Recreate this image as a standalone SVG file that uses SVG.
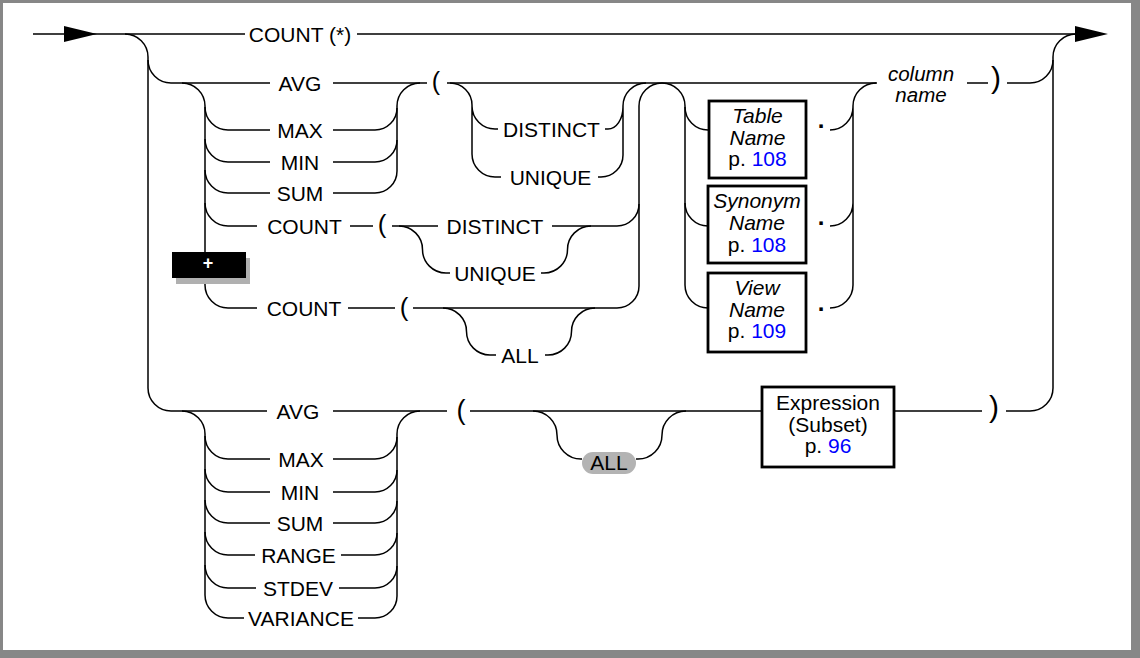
<svg xmlns="http://www.w3.org/2000/svg" width="1140" height="658" viewBox="0 0 1140 658">
<style>
.ln{fill:none;stroke:#000;stroke-width:1.5}
.t{font-family:"Liberation Sans",Arial,sans-serif;font-size:21px;fill:#000;text-anchor:middle}
.i{font-style:italic}
.p{font-family:"Liberation Sans",Arial,sans-serif;fill:#000;text-anchor:middle}
.dot{font-family:"Liberation Sans",Arial,sans-serif;font-size:24px;font-weight:bold;fill:#000;text-anchor:middle}
.box{fill:#fff;stroke:#000;stroke-width:2.8}
.pg{fill:#0000ff}
</style>
<rect x="0" y="0" width="1140" height="658" fill="#878787"/>
<rect x="3" y="3" width="1128" height="647" fill="#fff"/>
<g id="connectors" class="ln">
<path d="M33,34 H245 M357,34 H1078"/>
<path d="M125,34 A23,23 0 0 1 148,57 V388 A23,23 0 0 0 171,411"/>
<path d="M148,60 A23,23 0 0 0 171,83 H270 M333,83 H427 M447,83 H877"/>
<path d="M182,83 A23,23 0 0 1 205,106 V285"/>
<path d="M205,107 A23,23 0 0 0 228,130 H270 M333,130 H375 A22,22 0 0 0 397,108"/>
<path d="M205,139 A23,23 0 0 0 228,162 H270 M333,162 H375 A22,22 0 0 0 397,140"/>
<path d="M205,170 A23,23 0 0 0 228,193 H270 M333,193 H375 A22,22 0 0 0 397,171"/>
<path d="M397,171 V106 A23,23 0 0 1 420,83"/>
<path d="M205,203 A23,23 0 0 0 228,226 H257 M350,226 H373 M392,226 H438 M552,226 H617 A22,22 0 0 0 639,204"/>
<path d="M399,226 A23.5,23.5 0 0 1 422.5,249.5 A23.5,23.5 0 0 0 446,273 H450 M541,273 H544 A23.5,23.5 0 0 0 567.5,249.5 A23.5,23.5 0 0 1 591,226"/>
<path d="M205,285 A23,23 0 0 0 228,308 H257 M348,308 H395 M413,308 H617 A22,22 0 0 0 639,286 V106 A23,23 0 0 1 662,83 A23,23 0 0 1 685,106 V285 A23,23 0 0 0 708,308"/>
<path d="M443,308 A23.5,23.5 0 0 1 466.5,331.5 A23.5,23.5 0 0 0 490,355 H496 M545,355 H548 A23.5,23.5 0 0 0 571.5,331.5 A23.5,23.5 0 0 1 595,308"/>
<path d="M450,83 A22,22 0 0 1 472,105 V154 A23,23 0 0 0 495,177 H501 M472,106 A23,23 0 0 0 495,129 H498"/>
<path d="M605,129 H608 A15,22 0 0 0 623,107 M598,177 H601 A22,22 0 0 0 623,155 V106 A23,23 0 0 1 646,83"/>
<path d="M685,107 A23,23 0 0 0 708,130 M685,203 A23,23 0 0 0 708,226"/>
<path d="M830,130 A23,23 0 0 0 853,107 M830,226 A23,23 0 0 0 853,203 M830,308 A23,23 0 0 0 853,285 M853,285 V106 A23,23 0 0 1 876,83"/>
<path d="M967,83 H988 M1007,83 H1030 A23,23 0 0 0 1053,60"/>
<path d="M1053,388 V57 A23,23 0 0 1 1076,34 M1030,411 A23,23 0 0 0 1053,388"/>
<path d="M171,411 H267 M333,411 H447 M470,411 H762 M894,411 H982 M1006,411 H1030"/>
<path d="M182,411 A23,23 0 0 1 205,434 V595 A23,23 0 0 0 228,618 H244"/>
<path d="M205,436 A23,23 0 0 0 228,459 H270 M333,459 H375 A22,22 0 0 0 397,437"/>
<path d="M205,469 A23,23 0 0 0 228,492 H270 M333,492 H375 A22,22 0 0 0 397,470"/>
<path d="M205,500 A23,23 0 0 0 228,523 H270 M333,523 H375 A22,22 0 0 0 397,501"/>
<path d="M205,532 A23,23 0 0 0 228,555 H255 M341,555 H375 A22,22 0 0 0 397,533"/>
<path d="M205,565 A23,23 0 0 0 228,588 H256 M339,588 H375 A22,22 0 0 0 397,566"/>
<path d="M358,618 H375 A22,22 0 0 0 397,596 V434 A23,23 0 0 1 420,411"/>
<path d="M533,411 A24,24 0 0 1 557,435 A24,24 0 0 0 581,459 H582 M636,459 H638 A24,24 0 0 0 662,435 A24,24 0 0 1 686,411"/>
<polygon points="64,26 97,34 64,42" fill="#000" stroke="none"/>
<polygon points="1075,26 1108,34 1075,42" fill="#000" stroke="none"/>
</g>
<g id="count-star"><text class="t" x="300" y="41.5">COUNT (*)</text></g>
<g id="top-funcs">
<text class="t" x="300" y="90.5">AVG</text>
<text class="t" x="300" y="137.5">MAX</text>
<text class="t" x="300" y="169.5">MIN</text>
<text class="t" x="300" y="200.5">SUM</text>
<text class="t" x="304.5" y="233.5">COUNT</text>
<text class="t" x="304" y="315.5">COUNT</text>
</g>
<g id="parens">
<text class="p" x="436" y="90" font-size="25">(</text>
<text class="p" x="382" y="233" font-size="26">(</text>
<text class="p" x="404" y="316" font-size="26">(</text>
<text class="p" x="461" y="419" font-size="27">(</text>
<text class="p" x="996" y="88" font-size="30">)</text>
<text class="p" x="994" y="417" font-size="30">)</text>
</g>
<g id="distinct-top">
<text class="t" x="551.5" y="136.5">DISTINCT</text>
<text class="t" x="550.5" y="184.5">UNIQUE</text>
</g>
<g id="distinct-count">
<text class="t" x="495" y="233.5">DISTINCT</text>
<text class="t" x="495" y="280.5">UNIQUE</text>
</g>
<g id="all-count"><text class="t" x="520" y="362.5">ALL</text></g>
<g id="plus-marker">
<rect x="176" y="258" width="74" height="26" fill="#b0b0b0"/>
<rect x="172" y="252" width="74" height="26" fill="#000"/>
<text class="p" x="208" y="268.5" font-size="18" font-weight="bold" style="fill:#fff">+</text>
</g>
<g id="table-name">
<rect class="box" x="709" y="101" width="97" height="77"/>
<text class="t i" x="757.5" y="123">Table</text>
<text class="t i" x="757.5" y="144.5">Name</text>
<text class="t" x="757.5" y="166">p. <tspan class="pg">108</tspan></text>
<text class="dot" x="821" y="128">.</text>
</g>
<g id="synonym-name">
<rect class="box" x="708" y="186" width="98" height="77"/>
<text class="t i" x="757" y="208">Synonym</text>
<text class="t i" x="757" y="230">Name</text>
<text class="t" x="757" y="251.5">p. <tspan class="pg">108</tspan></text>
<text class="dot" x="821" y="225">.</text>
</g>
<g id="view-name">
<rect class="box" x="708" y="273" width="98" height="79"/>
<text class="t i" x="757" y="295">View</text>
<text class="t i" x="757" y="317">Name</text>
<text class="t" x="757" y="338">p. <tspan class="pg">109</tspan></text>
<text class="dot" x="821" y="311">.</text>
</g>
<g id="column-name">
<text class="t i" x="921" y="80.5" font-size="20.5" style="font-size:20.5px">column</text>
<text class="t i" x="921" y="101.5" style="font-size:20.5px">name</text>
</g>
<g id="bottom-funcs">
<text class="t" x="298" y="418.5">AVG</text>
<text class="t" x="301" y="466.5">MAX</text>
<text class="t" x="300" y="499.5">MIN</text>
<text class="t" x="300" y="530.5">SUM</text>
<text class="t" x="298.5" y="562.5">RANGE</text>
<text class="t" x="298" y="595.5">STDEV</text>
<text class="t" x="301" y="625.5">VARIANCE</text>
</g>
<g id="all-bottom">
<rect x="582" y="452" width="54" height="22" rx="11" fill="#b3b3b3"/>
<text class="t" x="609" y="470">ALL</text>
</g>
<g id="expression">
<rect class="box" x="762" y="387" width="132" height="80"/>
<text class="t" x="828" y="410">Expression</text>
<text class="t" x="828" y="432">(Subset)</text>
<text class="t" x="828" y="453">p. <tspan class="pg">96</tspan></text>
</g>
</svg>
